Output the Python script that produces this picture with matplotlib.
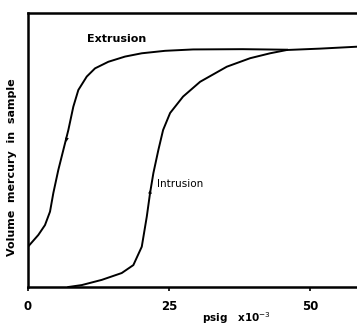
import numpy as np
import matplotlib.pyplot as plt

# pressure (psig x 1e-3) and relative volume of mercury
extr_p = [0.0, 1.83, 3.01, 3.90, 4.49, 5.37, 6.26, 7.15, 8.03, 8.92, 10.41, 11.88,
          14.24, 17.20, 20.16, 24.29, 29.26, 38.0, 45.9]
extr_v = [0.147, 0.190, 0.226, 0.275, 0.343, 0.427, 0.500, 0.573, 0.658, 0.719, 0.768, 0.798,
          0.822, 0.841, 0.853, 0.862, 0.867, 0.868, 0.866]

intr_p = [7.15, 9.52, 13.07, 16.61, 18.67, 20.16, 21.05, 21.63, 22.22, 23.10, 23.94, 25.18,
          27.48, 30.50, 35.23, 39.36, 42.91, 45.87, 51.77, 58.3]
intr_v = [0.0, 0.007, 0.026, 0.051, 0.080, 0.147, 0.257, 0.343, 0.416, 0.500, 0.573, 0.635,
          0.695, 0.749, 0.804, 0.835, 0.853, 0.865, 0.870, 0.877]

xticks = [0, 25, 50]

fig = plt.figure(figsize=(3.57, 3.27), dpi=100)
ax = fig.add_axes([28 / 357, 40 / 327, 1 - 28 / 357, 274 / 327])

ax.plot(extr_p, extr_v, color='black', lw=1.4, solid_joinstyle='round')
ax.plot(intr_p, intr_v, color='black', lw=1.4, solid_joinstyle='round')

# direction arrows on the curves
ax.annotate('', xy=(6.75, 0.52), xytext=(6.95, 0.555),
            arrowprops=dict(arrowstyle='-|>', color='black', lw=0, mutation_scale=7))
ax.annotate('', xy=(21.75, 0.365), xytext=(21.55, 0.33),
            arrowprops=dict(arrowstyle='-|>', color='black', lw=0, mutation_scale=7))

ax.text(10.4, 0.905, 'Extrusion', fontsize=8, fontweight='bold', va='center')
ax.text(22.9, 0.375, 'Intrusion', fontsize=7.5, va='center')

ax.set_xlim(0, 58.3)
ax.set_ylim(0, 1)
ax.set_xticks(xticks)
ax.set_xticklabels([str(t) for t in xticks], fontsize=8.5, fontweight='bold')
ax.set_yticks([])
ax.tick_params(axis='x', length=3, width=1.2, pad=6)
for s in ['left', 'bottom', 'top']:
    ax.spines[s].set_linewidth(1.8)
ax.spines['right'].set_visible(False)

fig.text(12 / 357, 1 - 167 / 327, 'Volume  mercury  in  sample', fontsize=8, fontweight='bold',
         rotation=90, ha='center', va='center')
fig.text(236 / 357, 1 - 318 / 327, r'psig   x10$^{-3}$', fontsize=7.5, fontweight='bold',
         ha='center', va='center')

fig.savefig('out.png', dpi=100)
